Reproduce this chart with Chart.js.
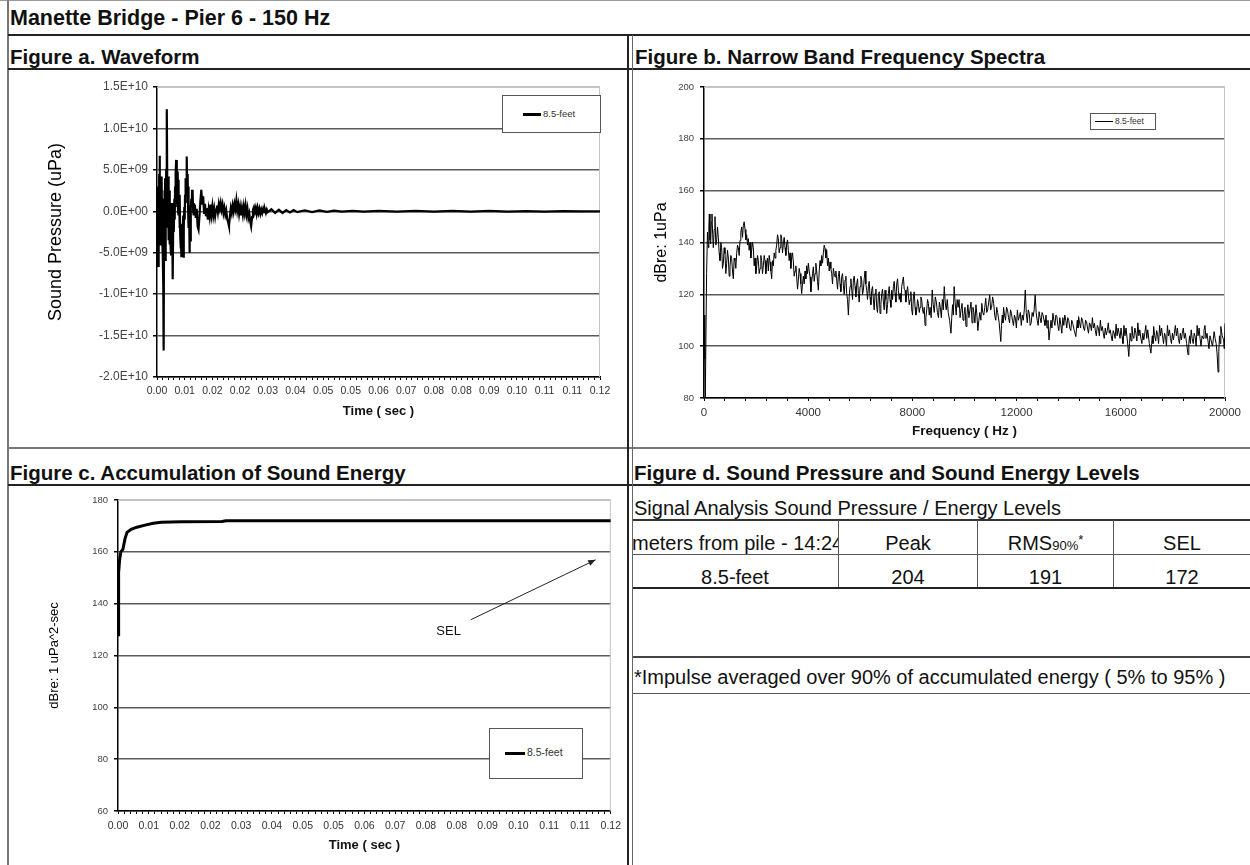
<!DOCTYPE html>
<html>
<head>
<meta charset="utf-8">
<script src="https://cdn.jsdelivr.net/npm/chart.js@4.4.1/dist/chart.umd.min.js"></script>
<style>
  body { margin: 0; background: #fff; font-family: "Liberation Sans", Arial, sans-serif; }
  #page { position: relative; width: 1250px; height: 865px; overflow: hidden; background: #fff; }
  .ln { position: absolute; background: #222; }
  .hdr { position: absolute; font-weight: bold; font-size: 20.5px; line-height: 24px; color: #111; white-space: nowrap; }
  .txt { position: absolute; font-size: 20px; line-height: 22px; color: #111; white-space: nowrap; }
  .cell { position: absolute; font-size: 20px; line-height: 22px; color: #111; white-space: nowrap; text-align: center; overflow: hidden; }
  .cell .sm { font-size: 13px; line-height: 0; }
  .cell .st { font-size: 13px; line-height: 0; position: relative; top: -6px; }
  canvas { position: absolute; }
  .legend { position: absolute; border: 1px solid #555; background: #fff; }
  .legend .mark { position: absolute; background: #000; }
  .legend .lbl { position: absolute; color: #333; white-space: nowrap; }
</style>
</head>
<body>
<div id="page">
  <!-- frame -->
  <div class="ln" style="left:0;top:0;width:1250px;height:1px;background:#999"></div>
  <div class="ln" style="left:7px;top:0;width:2px;height:865px;background:#777"></div>
  <div class="ln" style="left:8px;top:34px;width:1242px;height:2px"></div>
  <div class="ln" style="left:8px;top:68px;width:1242px;height:2px"></div>
  <div class="ln" style="left:8px;top:447px;width:1242px;height:2px;background:#777"></div>
  <div class="ln" style="left:8px;top:484px;width:1242px;height:2px"></div>
  <div class="ln" style="left:627px;top:35px;width:2px;height:830px"></div>
  <div class="ln" style="left:632px;top:35px;width:1px;height:830px;background:#666"></div>

  <div class="hdr" style="left:10px;top:5px;font-size:21.5px;line-height:26px">Manette Bridge - Pier 6 - 150 Hz</div>
  <div class="hdr" style="left:10px;top:45px">Figure a. Waveform</div>
  <div class="hdr" style="left:635px;top:45px">Figure b. Narrow Band Frequency Spectra</div>
  <div class="hdr" style="left:10px;top:461px">Figure c. Accumulation of Sound Energy</div>
  <div class="hdr" style="left:634px;top:461px">Figure d. Sound Pressure and Sound Energy Levels</div>

  <canvas id="chartA" width="619" height="377" style="left:8px;top:70px;width:619px;height:377px"></canvas>
  <canvas id="chartB" width="617" height="377" style="left:633px;top:70px;width:617px;height:377px"></canvas>
  <canvas id="chartC" width="619" height="379" style="left:8px;top:486px;width:619px;height:379px"></canvas>

  <div class="legend" style="left:502px;top:95px;width:97px;height:36px">
    <div class="mark" style="left:20px;top:17px;width:18px;height:3px"></div>
    <div class="lbl" style="left:40px;top:12px;font-size:9.5px">8.5-feet</div>
  </div>
  <div class="legend" style="left:1090px;top:113px;width:64px;height:15px">
    <div class="mark" style="left:4px;top:7px;width:18px;height:1px"></div>
    <div class="lbl" style="left:24px;top:2px;font-size:8.5px">8.5-feet</div>
  </div>
  <div class="legend" style="left:489px;top:728px;width:92px;height:49px">
    <div class="mark" style="left:15px;top:23px;width:20px;height:3px"></div>
    <div class="lbl" style="left:37px;top:17px;font-size:10.5px">8.5-feet</div>
  </div>

  <!-- figure d table -->
  <div class="txt" style="left:634px;top:497px">Signal Analysis Sound Pressure / Energy Levels</div>
  <div class="ln" style="left:633px;top:519px;width:617px;height:2px;background:#333"></div>
  <div class="ln" style="left:838px;top:520px;width:1px;height:68px;background:#555"></div>
  <div class="ln" style="left:977px;top:520px;width:1px;height:68px;background:#555"></div>
  <div class="ln" style="left:1113px;top:520px;width:1px;height:68px;background:#555"></div>
  <div class="ln" style="left:633px;top:554px;width:617px;height:1px;background:#555"></div>
  <div class="ln" style="left:633px;top:587px;width:617px;height:2px"></div>
  <div class="ln" style="left:633px;top:656px;width:617px;height:2px;background:#444"></div>
  <div class="ln" style="left:633px;top:693px;width:617px;height:1px;background:#555"></div>
  <div id="table"></div>
  <div class="txt" style="left:634px;top:666px">*Impulse averaged over 90% of accumulated energy ( 5% to 95% )</div>
</div>

<script>
// ---- figure a: waveform (time in ms, pressure in 1E+09 uPa) ----
const waveTimeMs = [
  0,0.1,0.2,0.3,0.4,0.5,0.6,0.7,0.8,0.9,
  1.0,1.1,1.2,1.3,1.4,1.5,1.6,1.7,1.8,1.9,
  2.0,2.1,2.2,2.3,2.4,2.5,2.6,2.7,2.8,2.9,
  3.0,3.1,3.2,3.3,3.4,3.5,3.6,3.7,3.8,3.9,
  4.0,4.1,4.2,4.3,4.4,4.5,4.6,4.7,4.8,4.9,
  5.0,5.1,5.2,5.3,5.4,5.5,5.6,5.7,5.8,5.9,
  6.0,6.1,6.2,6.3,6.4,6.5,6.6,6.7,6.8,6.9,
  7.0,7.1,7.2,7.3,7.4,7.5,7.6,7.7,7.8,7.9,
  8.0,8.1,8.2,8.3,8.4,8.5,8.6,8.7,8.8,8.9,
  9.0,9.1,9.2,9.3,9.4,9.5,9.6,9.7,9.8,9.9,
  10.0,10.25,10.5,10.75,11.0,11.25,11.5,11.75,12.0,12.25,
  12.5,12.75,13.0,13.25,13.5,13.75,14.0,14.25,14.5,14.75,
  15.0,15.25,15.5,15.75,16.0,16.25,16.5,16.75,17.0,17.25,
  17.5,17.75,18.0,18.25,18.5,18.75,19.0,19.25,19.5,19.75,
  20.0,20.25,20.5,20.75,21.0,21.25,21.5,21.75,22.0,22.25,
  22.5,22.75,23.0,23.25,23.5,23.75,24.0,24.25,24.5,24.75,
  25.0,25.25,25.5,25.75,26.0,26.25,26.5,26.75,27.0,27.25,
  27.5,27.75,28.0,28.25,28.5,28.75,29.0,29.25,29.5,29.75,
  30,31,32,33,34,35,36,37,38,40,
  42,44,46,48,50,53,56,60,65,70,
  75,80,85,90,95,100,105,110,115,120];
const wavePressureE9 = [
  0,3.0,-4.5,-6.6,2.0,-3.5,4.5,6.7,-1.0,-4.0,
  3.5,-2.0,2.5,4.2,-3.5,1.5,-5.0,-9.0,-16.8,-4.0,
  2.5,-3.0,4.0,-6.0,1.0,5.0,9.0,12.3,2.0,-2.0,
  4.2,-3.5,3.0,-1.5,2.5,-4.0,1.0,-4.5,-5.2,0.5,
  -2.5,1.0,-5.5,-8.2,-1.0,0.5,-2.5,1.5,-1.0,3.0,
  0.5,4.5,6.2,2.0,5.0,1.0,4.8,0.0,3.8,-0.5,
  2.0,-2.0,1.5,-3.0,-4.5,-2.0,-5.4,-1.5,-4.0,-2.0,
  -4.5,-0.5,-5.6,-2.0,0.5,-1.0,2.0,1.0,4.0,2.0,
  5.5,6.6,2.0,4.5,0.5,3.0,-2.0,-0.5,-5.0,-2.5,
  -3.5,-0.5,0.5,1.5,0.5,2.6,1.0,2.2,0.0,1.0,
  -0.5,0.8,-0.8,0.3,-1.8,-2.2,-0.6,1.2,2.6,0.8,
  1.8,-0.2,0.9,-0.6,0.4,-1.0,0.2,-0.6,0.8,-0.4,
  0.6,-0.5,0.3,-0.6,0.2,0.7,-0.1,0.9,0.3,1.0,
  0.2,0.8,-0.2,0.4,-0.4,0.1,-0.9,-1.3,-1.8,-0.6,
  0.4,-0.2,0.7,0.0,0.9,0.3,1.3,0.1,0.8,-0.3,
  0.5,-0.5,0.4,-0.4,0.6,-0.2,0.7,-0.4,0.3,-0.8,
  -0.3,-1.2,-1.8,-0.7,0.2,0.5,-0.1,0.4,-0.3,0.4,
  -0.2,0.3,-0.3,0.2,-0.2,0.3,-0.1,0.2,-0.2,0.2,
  -0.1,0.25,-0.2,0.2,-0.2,0.15,-0.15,0.15,-0.1,0.12,
  -0.1,0.1,-0.08,0.08,-0.05,0.06,-0.05,0.05,-0.05,0.05,
  -0.04,0.04,-0.04,0.04,-0.03,0.03,-0.03,0.03,-0.02,0];
const timeTickLabels = ['0.00','0.01','0.02','0.02','0.03','0.04','0.05','0.05','0.06','0.07','0.08','0.08','0.09','0.10','0.11','0.11','0.12'];
const pressureTickLabels = ['-2.0E+10','-1.5E+10','-1.0E+10','-5.0E+09','0.0E+00','5.0E+09','1.0E+10','1.5E+10'];

// ---- figure b: narrow band spectrum ----
const specHz = [
  0,30,50,100,133,166,186,205,230,256,
  282,307,332,358,390,422,454,486,518,550,
  582,614,646,678,710,742,774,806,838,870,
  902,934,966,998,1030,1062,1094,1126,1158,1190,
  1222,1254,1286,1318,1350,1382,1414,1446,1478,1510,
  1542,1574,1606,1638,1670,1702,1734,1766,1798,1830,
  1862,1894,1926,1958,1990,2022,2054,2086,2118,2150,
  2182,2214,2246,2278,2310,2342,2374,2406,2438,2470,
  2502,2534,2566,2598,2630,2662,2694,2726,2758,2790,
  2822,2854,2886,2918,2950,2982,3014,3046,3078,3110,
  3142,3174,3206,3238,3270,3302,3334,3366,3398,3430,
  3462,3494,3526,3558,3590,3622,3654,3686,3718,3750,
  3782,3814,3846,3878,3910,3942,3974,4006,4038,4070,
  4102,4134,4166,4198,4230,4262,4294,4326,4358,4390,
  4422,4454,4486,4518,4550,4582,4614,4646,4678,4710,
  4742,4774,4806,4838,4870,4902,4934,4966,4998,5030,
  5062,5094,5126,5158,5190,5222,5254,5286,5318,5350,
  5382,5414,5446,5478,5510,5542,5574,5606,5638,5670,
  5702,5734,5766,5798,5830,5862,5894,5926,5958,5990,
  6022,6054,6086,6118,6150,6182,6214,6246,6278,6310,
  6342,6374,6406,6438,6470,6502,6534,6566,6598,6630,
  6662,6694,6726,6758,6790,6822,6854,6886,6918,6950,
  6982,7014,7046,7078,7110,7142,7174,7206,7238,7270,
  7302,7334,7366,7398,7430,7462,7494,7526,7558,7590,
  7622,7654,7686,7718,7750,7782,7814,7846,7878,7910,
  7942,7974,8006,8038,8070,8102,8134,8166,8198,8230,
  8262,8294,8326,8358,8390,8422,8454,8486,8518,8550,
  8582,8614,8646,8678,8720,8760,8800,8840,8880,8920,
  8960,9000,9036,9072,9110,9150,9186,9223,9260,9300,
  9338,9375,9428,9481,9510,9540,9570,9602,9640,9680,
  9717,9754,9792,9830,9868,9906,9943,9980,10019,10058,
  10094,10130,10170,10209,10250,10290,10326,10361,10400,10440,
  10476,10513,10550,10590,10628,10665,10702,10740,10778,10816,
  10853,10890,10929,10968,11004,11040,11080,11120,11160,11200,
  11236,11271,11332,11393,11420,11450,11475,11499,11537,11575,
  11613,11651,11690,11730,11766,11802,11841,11880,11917,11954,
  11992,12030,12068,12106,12143,12180,12218,12257,12295,12333,
  12370,12410,12448,12485,12522,12560,12598,12636,12674,12712,
  12751,12790,12827,12864,12902,12940,12978,13015,13052,13090,
  13128,13167,13205,13243,13281,13320,13357,13394,13432,13470,
  13508,13546,13583,13620,13659,13698,13736,13775,13812,13850,
  13887,13925,13963,14001,14040,14080,14116,14153,14214,14274,
  14302,14330,14355,14380,14418,14455,14494,14532,14571,14610,
  14647,14684,14722,14760,14797,14835,14872,14910,14948,14987,
  15023,15060,15100,15139,15177,15215,15252,15290,15328,15365,
  15404,15442,15481,15520,15557,15594,15632,15670,15708,15745,
  15783,15820,15858,15897,15934,15970,16009,16048,16084,16120,
  16160,16200,16254,16307,16334,16360,16394,16428,16464,16500,
  16540,16579,16617,16655,16693,16731,16770,16810,16846,16883,
  16921,16960,16997,17034,17095,17156,17183,17210,17236,17262,
  17301,17340,17376,17413,17451,17490,17527,17565,17602,17640,
  17678,17717,17753,17790,17829,17868,17906,17945,17982,18020,
  18057,18095,18133,18172,18211,18250,18286,18323,18361,18400,
  18437,18475,18528,18581,18610,18640,18671,18702,18741,18780,
  18817,18854,18892,18930,18967,19005,19042,19080,19118,19157,
  19193,19230,19270,19309,19347,19385,19423,19461,19521,19582,
  19621,19660,19697,19734,19762,19790,19815,19840,19893,19946,
  19973,20000];
const specDb = [
  112,95,80,128,144,138,146,151,141,139.5,
  148,151,143,138,145,150,139,141,146,142,
  136,133,140,138,130,132,138,135.7,128,132,
  137,134,127,130.6,135,133.8,129,126,134,133,
  130,135.7,139,138,135,140.8,144,146,142,146.6,
  148,145,141,143,139,141.5,137,140,134,137,
  140,138,131,134,128,130.6,135,133,128,130,
  135,133,128,131,135,133,128,132,134,129,
  135,132.5,129,126,133,131,136,134,137,139,
  143,141.5,136,138,143,141.5,136,139.5,142,138,
  135,139.5,141,137,133,136,130,134,136,132.5,
  127,129,131,126.7,122,125.5,130,128,124,120.3,
  124,127,124,129,126,131,128,132,129,126.7,
  121,124.8,128,130.6,125,128,132,129,125,121.6,
  129,133,131,135,132,136,139,137.6,134,137,
  131,134,129,132.5,130,128,124,130,128,126.7,
  129,125.5,122,127,129,124,121,126.7,128,123.5,
  120,125.5,127,120.3,118,112,119,123,126,121.6,
  118,125.5,127,123,119,124,126,120.3,117,123,
  127,125.5,120,121.6,126,129,124,121.6,118,123,
  125,119,116,121.6,123,117.8,114,120.3,122,115,
  113,119.7,121,112.6,116,120.3,122,117,114,121.6,
  118,112.6,116,120.3,123,117.8,115,121.6,118,123,
  125,120.3,117,124,126,121.6,118,120.3,117,123,
  125,126.7,122,121.6,117,120.3,123,119.7,116,117.8,
  121,114,112,119,121,115,112,114,118,116.5,
  113,115,119,117.8,114,112.6,115,108,111,114,
  118,116.5,112,115,111,121.7,116,113,119,117,
  113,111,117,115,111,118,114,123,117,114,
  118,113,110,105,111,116,112,123,117,112,
  118,115,118,111,114,116.5,110,112,115,107.6,
  112,116,111,114,117,109,115,113,109,116,
  112,106,110,113,110,116.5,113,112,115,118.5,
  113,114,117,119.7,114,115,119,116.5,112,110,
  115,113,109,101.8,108,112,109,115,112,110,
  115,114,111,109,114,112.7,110,108,112,110.8,
  107,114,110,111.4,113,108,112,110,114,121.7,
  113,109,114,112.7,108,109,113,111.4,114,119.7,
  113,110,108,113.3,111,109,113,112,110,108,
  112,107,110,102.4,106,110,107,112.7,110,108,
  112,111.4,108,106,111,108.2,105,111,108,112,
  110,107,111,110,107,106,110,108.8,106,103.7,
  107,110,107,111.4,109,107,111,110,107,106,
  110,109.5,107,105,109,108.2,106,111,107,108.8,
  106,104,108,107,104,110,106,107.6,105,103,
  107,104.4,106,109,105,106.3,104,102,106,105,
  103,108.5,104,107,105,103,107,103.7,101,108,
  104,107,102,96,101,105,102,107.6,104,103,
  107,105,102,109,104,106.3,103,101,105,102.4,
  105,108,103,106.3,101,97.3,101,104,101,107.6,
  104,102,106,104.4,101,108,104,107,104,101,
  105,103.7,100,108,104,106.3,103,101,105,102.4,
  105,108,104,107,103,101,105,102.4,105,107,
  103,105,101,96.7,101,104,101,106.3,103,101,
  105,103.7,100,108,104,107,103,100,104,103,
  106,108,103,105,102,99,104,102.4,100,105.6,
  103,101,97,90,98,104,101,107.6,104,102.4,
  99,108.8];
const freqTickLabels = ['0','4000','8000','12000','16000','20000'];
const dbTickLabels = ['80','100','120','140','160','180','200'];

// ---- figure c: accumulated energy ----
const energyTimeMs = [0,0.1,0.2,0.4,0.7,1.2,1.7,2.2,3.2,4.6,6.6,8.6,10.5,15.5,25.3,26.3,120];
const energyDb = [128,145,152,157,160,161,165,167.5,168.7,169.5,170.3,171,171.4,171.6,171.7,172,172];
const selTickLabels = ['60','80','100','120','140','160','180'];

// ---- figure d: levels table ----
const tableHead = ['meters from pile - 14:24', 'Peak', 'RMS', 'SEL'];
const tableRow = ['8.5-feet', 204, 191, 172];

Chart.defaults.font.family = '"Liberation Sans", Arial, sans-serif';
Chart.defaults.color = '#333';
Chart.defaults.animation = false;

function pairs(xs, ys, xf) {
  const n = Math.min(xs.length, ys.length);
  const out = [];
  for (let i = 0; i < n; i++) out.push({ x: xf(xs[i]), y: ys[i] });
  return out;
}

// light grey frame on the plot area (Excel style)
const plotFrame = {
  id: 'plotFrame',
  beforeDatasetsDraw(chart) {
    const { ctx, chartArea: a } = chart;
    ctx.save();
    ctx.strokeStyle = '#c4c4c4';
    ctx.lineWidth = 1;
    ctx.beginPath();
    ctx.moveTo(a.left, a.top + 0.5); ctx.lineTo(a.right - 0.5, a.top + 0.5); ctx.lineTo(a.right - 0.5, a.bottom);
    ctx.stroke();
    ctx.restore();
  }
};

function gridColor(maxVal) {
  return c => (c.tick && c.tick.value === maxVal) ? '#c4c4c4' : '#5a5a5a';
}

function timeAxis(labelPad, titlePadBottom, height) {
  return {
    type: 'linear', min: 0, max: 0.12,
    afterBuildTicks: s => { s.ticks = Array.from({ length: 81 }, (_, i) => ({ value: i * 0.0015 })); },
    afterFit: s => { s.height = height; },
    ticks: { autoSkip: false, maxRotation: 0, minRotation: 0, padding: labelPad, color: '#333', font: { size: 10.5 },
      callback: (v, i) => (i % 5 === 0 ? timeTickLabels[i / 5] : '') },
    grid: { drawOnChartArea: false, drawTicks: true, tickLength: 3, tickColor: '#000', color: '#000' },
    border: { display: true, color: '#000', width: 1.5 },
    title: { display: true, text: 'Time ( sec )', color: '#111', font: { size: 13, weight: 'bold' },
      padding: { top: 0, bottom: titlePadBottom } }
  };
}

// Figure a
new Chart(document.getElementById('chartA'), {
  type: 'line',
  data: { datasets: [{ label: '8.5-feet', data: pairs(waveTimeMs, wavePressureE9.map(v => v * 1e9), t => t / 1000),
    borderColor: '#000', borderWidth: 2.2, pointRadius: 0, tension: 0 }] },
  options: {
    responsive: false,
    layout: { padding: { left: 0, top: 17, right: 27, bottom: 0 } },
    plugins: { legend: { display: false }, tooltip: { enabled: false } },
    scales: {
      x: timeAxis(5, 28, 70),
      y: {
        min: -2e10, max: 1.5e10,
        ticks: { stepSize: 5e9, padding: 5, color: '#444', font: { size: 12 }, callback: (v, i) => pressureTickLabels[i] },
        afterFit: s => { s.width = 149; },
        grid: { color: gridColor(1.5e10), lineWidth: 1.5, tickLength: 4, tickColor: '#000' },
        border: { display: true, color: '#000', width: 1.5 },
        title: { display: true, text: 'Sound Pressure (uPa)', color: '#000', font: { size: 18 }, padding: { top: 37, bottom: 0 } }
      }
    }
  },
  plugins: [plotFrame]
});

// Figure b
new Chart(document.getElementById('chartB'), {
  type: 'line',
  data: { datasets: [{ label: '8.5-feet', data: pairs(specHz, specDb, f => f),
    borderColor: '#000', borderWidth: 1, pointRadius: 0, tension: 0 }] },
  options: {
    responsive: false,
    layout: { padding: { left: 0, top: 17, right: 25, bottom: 0 } },
    plugins: { legend: { display: false }, tooltip: { enabled: false } },
    scales: {
      x: {
        type: 'linear', min: 0, max: 20000,
        afterBuildTicks: s => { s.ticks = Array.from({ length: 26 }, (_, i) => ({ value: i * 800 })); },
        afterFit: s => { s.height = 49; },
        ticks: { autoSkip: false, maxRotation: 0, padding: 5, color: '#333', font: { size: 11.5 },
          callback: (v, i) => (i % 5 === 0 ? freqTickLabels[i / 5] : '') },
        grid: { drawOnChartArea: false, tickLength: 3, tickColor: '#000', color: '#000' },
        border: { display: true, color: '#000', width: 1.5 },
        title: { display: true, text: 'Frequency ( Hz )', color: '#111', font: { size: 13.5, weight: 'bold' }, padding: { top: 0, bottom: 8 } }
      },
      y: {
        min: 80, max: 200,
        ticks: { stepSize: 20, padding: 6, color: '#444', font: { size: 9.5 }, callback: (v, i) => dbTickLabels[i] },
        afterFit: s => { s.width = 71; },
        grid: { color: gridColor(200), lineWidth: 1.5, tickLength: 4, tickColor: '#000' },
        border: { display: true, color: '#000', width: 1.5 },
        title: { display: true, text: 'dBre: 1uPa', color: '#000', font: { size: 16 }, padding: { top: 19, bottom: 0 } }
      }
    }
  },
  plugins: [plotFrame]
});

// SEL arrow annotation in data space
const selArrow = {
  id: 'selArrow',
  afterDatasetsDraw(chart) {
    const { ctx, scales: { x, y } } = chart;
    const x0 = x.getPixelForValue(0.0859), y0 = y.getPixelForValue(133.8);
    const x1 = x.getPixelForValue(0.1163), y1 = y.getPixelForValue(156.9);
    ctx.save();
    ctx.strokeStyle = '#222'; ctx.fillStyle = '#222'; ctx.lineWidth = 1;
    ctx.beginPath(); ctx.moveTo(x0, y0); ctx.lineTo(x1, y1); ctx.stroke();
    const ang = Math.atan2(y1 - y0, x1 - x0);
    ctx.beginPath();
    ctx.moveTo(x1, y1);
    ctx.lineTo(x1 - 8 * Math.cos(ang - 0.4), y1 - 8 * Math.sin(ang - 0.4));
    ctx.lineTo(x1 - 8 * Math.cos(ang + 0.4), y1 - 8 * Math.sin(ang + 0.4));
    ctx.closePath(); ctx.fill();
    ctx.font = '13px "Liberation Sans", Arial, sans-serif';
    ctx.fillStyle = '#111'; ctx.textAlign = 'center'; ctx.textBaseline = 'middle';
    ctx.fillText('SEL', x.getPixelForValue(0.0805), y.getPixelForValue(129.2));
    ctx.restore();
  }
};

// Figure c
new Chart(document.getElementById('chartC'), {
  type: 'line',
  data: { datasets: [{ label: '8.5-feet', data: pairs(energyTimeMs, energyDb, t => t / 1000),
    borderColor: '#000', borderWidth: 3, pointRadius: 0, tension: 0 }] },
  options: {
    responsive: false,
    layout: { padding: { left: 0, top: 14, right: 12, bottom: 0 } },
    plugins: { legend: { display: false }, tooltip: { enabled: false } },
    scales: {
      x: timeAxis(6, 12, 54),
      y: {
        min: 60, max: 180,
        ticks: { stepSize: 20, padding: 6, color: '#444', font: { size: 9.5 }, callback: (v, i) => selTickLabels[i] },
        afterFit: s => { s.width = 110; },
        grid: { color: gridColor(180), lineWidth: 1.5, tickLength: 4, tickColor: '#000' },
        border: { display: true, color: '#000', width: 1.5 },
        title: { display: true, text: 'dBre: 1 uPa^2-sec', color: '#000', font: { size: 13 }, padding: { top: 39, bottom: 0 } }
      }
    }
  },
  plugins: [plotFrame, selArrow]
});

// Figure d table cells
const table = document.getElementById('table');
const cols = [[632, 206], [839, 138], [978, 135], [1114, 136]];
function cell(x, w, top, html, align) {
  const d = document.createElement('div');
  d.className = 'cell';
  d.style.left = x + 'px'; d.style.width = w + 'px'; d.style.top = top + 'px';
  if (align) d.style.textAlign = align;
  d.innerHTML = html;
  table.appendChild(d);
}
tableHead.forEach((h, i) => {
  const html = h === 'RMS' ? 'RMS<span class="sm">90%</span><span class="st">*</span>' : h;
  cell(cols[i][0], cols[i][1], 532, html, i === 0 ? 'right' : null);
});
tableRow.forEach((v, i) => cell(cols[i][0], cols[i][1], 566, String(v)));
</script>
</body>
</html>
